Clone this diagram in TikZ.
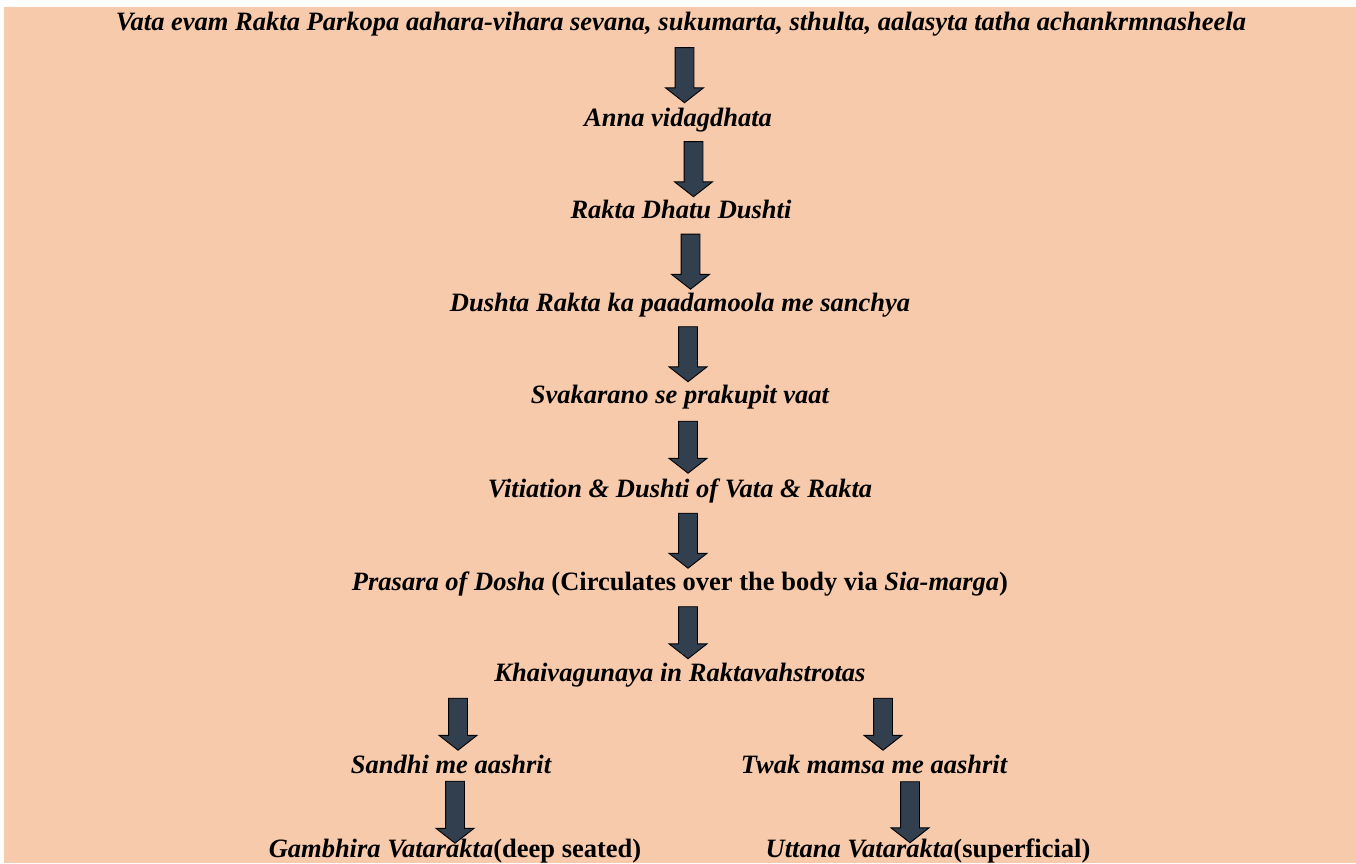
\documentclass[tikz,border=0pt]{standalone}
\usepackage{fontspec}
\setmainfont{Liberation Serif}
\usetikzlibrary{shapes.arrows}

\definecolor{peach}{HTML}{F7CAAC}
\definecolor{slate}{HTML}{323F4F}

\tikzset{
  flowtext/.style={font=\fontsize{26.5}{30}\selectfont\bfseries\itshape,
    anchor=base, text height=19pt, text depth=6pt, inner sep=0pt},
  blockarr/.style={single arrow, draw=black, fill=slate, line width=0.9pt,
    rotate=-90, inner sep=9pt, minimum height=#1,
    single arrow head extend=9.5pt, single arrow tip angle=104,
    single arrow head indent=0pt},
  blockarr/.default=55pt
}

\begin{document}
\begin{tikzpicture}[x=1pt, y=-1pt]
\useasboundingbox (0,0) rectangle (1356,863);
\fill[peach] (4,7) rectangle (1356,863);

% chain of causes
\node[flowtext] (cause) at (681,30) {Vata evam Rakta Parkopa aahara-vihara sevana, sukumarta, sthulta, aalasyta tatha achankrmnasheela};
\node[flowtext] (anna) at (678,126) {Anna vidagdhata};
\node[flowtext] (rakta) at (681,218) {Rakta Dhatu Dushti};
\node[flowtext] (sanchya) at (680,311) {Dushta Rakta ka paadamoola me sanchya};
\node[flowtext] (prakupit) at (680,403) {Svakarano se prakupit vaat};
\node[flowtext] (vitiation) at (680,497) {Vitiation \& Dushti of Vata \& Rakta};
\node[flowtext] (prasara) at (680,590) {Prasara of Dosha \textup{(Circulates over the body via \textit{Sia-marga})}};
\node[flowtext] (khai) at (680,681) {Khaivagunaya in Raktavahstrotas};

% two branches
\node[flowtext] (sandhi) at (451,773) {Sandhi me aashrit};
\node[flowtext] (twak) at (874,773) {Twak mamsa me aashrit};
\node[flowtext] (gambhira) at (455,857) {Gambhira Vatarakta\textup{(deep seated)}};
\node[flowtext] (uttana) at (928,857) {Uttana Vatarakta\textup{(superficial)}};

% block arrows
\path (cause) -- node[xshift=5pt, blockarr] {} (anna);
\path (anna) -- node[xshift=14pt, blockarr] {} (rakta);
\path (rakta) -- node[xshift=10pt, blockarr] {} (sanchya);
\path (sanchya) -- node[xshift=8pt, blockarr] {} (prakupit);
\path (prakupit) -- node[xshift=8pt, blockarr=52pt] {} (vitiation);
\path (vitiation) -- node[xshift=8pt, blockarr] {} (prasara);
\path (prasara) -- node[xshift=8pt, blockarr=52pt] {} (khai);
\path (sandhi |- khai.south) -- node[xshift=7pt, blockarr=52pt] {} (sandhi);
\path (twak |- khai.south) -- node[xshift=9pt, blockarr=52pt] {} (twak);
\path (sandhi.south) -- node[xshift=4pt, blockarr=62pt] {} (sandhi.south |- gambhira.north);
\path (twak.south) -- node[xshift=36pt, blockarr=61pt] {} (twak.south |- uttana.north);
\end{tikzpicture}
\end{document}
